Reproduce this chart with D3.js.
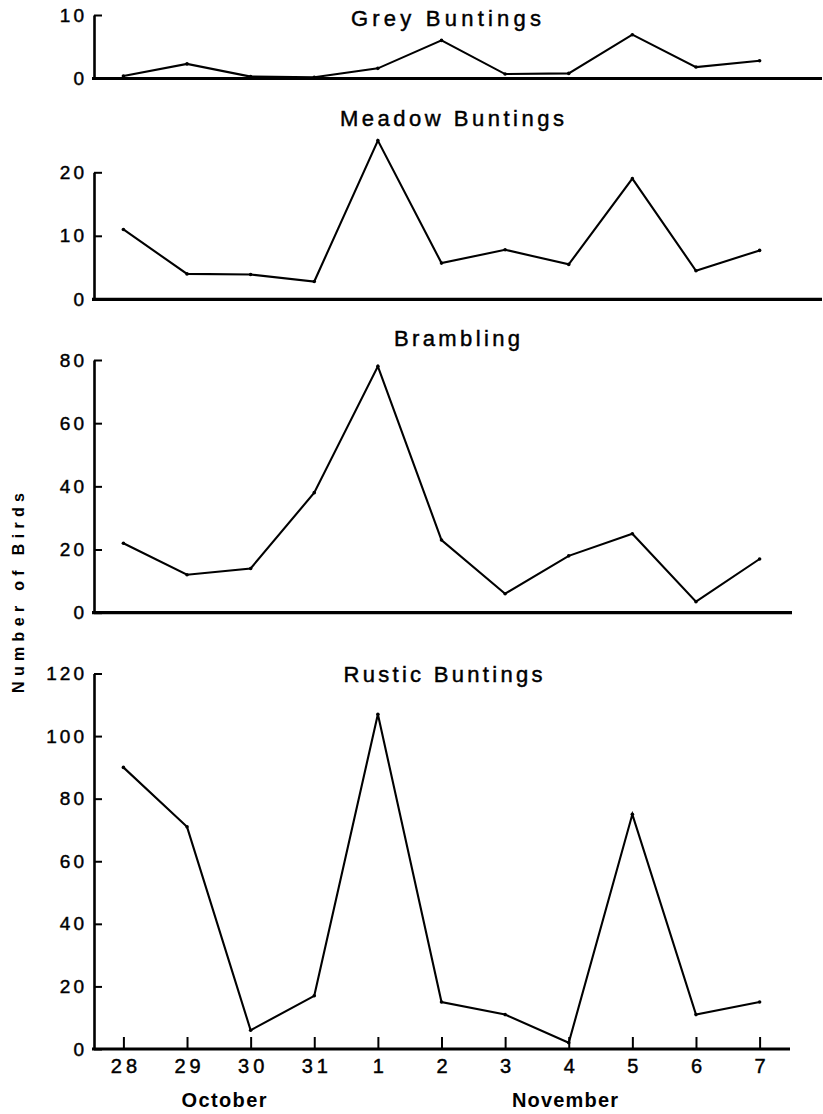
<!DOCTYPE html>
<html>
<head>
<meta charset="utf-8">
<script src="https://cdn.jsdelivr.net/npm/d3@7"></script>
<style>
  html, body { margin: 0; padding: 0; background: #fff; }
  svg { display: block; }
  text { font-family: "Liberation Sans", Arial, sans-serif; fill: #000; }
  .heavy { stroke: #000; stroke-width: 0.45px; }
</style>
</head>
<body>
<svg id="chart" width="823" height="1114"></svg>
<script>
// Daily counts of birds, 28 October – 7 November
const days = ["28", "29", "30", "31", "1", "2", "3", "4", "5", "6", "7"];

const greyBuntings   = [0.4, 2.3, 0.3, 0.2, 1.6, 6, 0.7, 0.8, 6.9, 1.8, 2.8];
const meadowBuntings = [11, 4, 3.9, 2.8, 25, 5.7, 7.8, 5.5, 19, 4.5, 7.7];
const brambling      = [22, 12, 14, 38, 78, 23, 6, 18, 25, 3.5, 17];
const rusticBuntings = [90, 71, 6, 17, 107, 15, 11, 2, 75, 11, 15];

const greyTicks      = [0, 10];
const meadowTicks    = [0, 10, 20];
const bramblingTicks = [0, 20, 40, 60, 80];
const rusticTicks    = [0, 20, 40, 60, 80, 100, 120];

const monthLabels = ["October", "November"];
const yTitle = "Number of Birds";

// Panel layout: baseline / top-tick pixel rows and how far each baseline runs
const panels = [
  { title: "Grey Buntings",   values: greyBuntings,   ticks: greyTicks,      base: 78.5,  top: 15,    xEnd: 822, titleX: 446, titleY: 26,  titleW: 190 },
  { title: "Meadow Buntings", values: meadowBuntings, ticks: meadowTicks,    base: 299.3, top: 172.3, xEnd: 822, titleX: 452, titleY: 126, titleW: 224 },
  { title: "Brambling",       values: brambling,      ticks: bramblingTicks, base: 612.7, top: 360,   xEnd: 792, titleX: 457, titleY: 346, titleW: 126 },
  { title: "Rustic Buntings", values: rusticBuntings, ticks: rusticTicks,    base: 1049,  top: 673.5, xEnd: 790, titleX: 443, titleY: 682, titleW: 199 }
];

const axisX = 94;
const svg = d3.select("#chart");

const x = d3.scalePoint().domain(days).range([123.4, 759.6]);

panels.forEach((p, i) => {
  const y = d3.scaleLinear()
    .domain([0, d3.max(p.ticks)])
    .range([p.base, p.top]);

  const g = svg.append("g");

  // title
  g.append("text")
    .attr("class", "heavy")
    .attr("x", p.titleX - p.titleW / 2)
    .attr("y", p.titleY)
    .attr("textLength", p.titleW)
    .attr("lengthAdjust", "spacing")
    .style("font-size", "22px")
    .text(p.title);

  // y axis with inward ticks
  const yAxis = d3.axisLeft(y)
    .tickValues(p.ticks)
    .tickSizeInner(-8)
    .tickSizeOuter(0)
    .tickPadding(10)
    .tickFormat(d3.format("d"));

  const ya = g.append("g")
    .attr("transform", `translate(${axisX},0)`)
    .call(yAxis);
  ya.select(".domain").attr("stroke", "#000").attr("stroke-width", 2.6);
  ya.selectAll(".tick line").attr("stroke", "#000").attr("stroke-width", 2);
  ya.selectAll(".tick text")
    .attr("class", "heavy")
    .attr("font-family", null)
    .attr("font-size", null)
    .style("font-size", "19px")
    .style("letter-spacing", "3px")
    .attr("dx", "3px");

  // baseline
  g.append("line")
    .attr("x1", axisX - 2).attr("x2", p.xEnd)
    .attr("y1", y(0)).attr("y2", y(0))
    .attr("stroke", "#000").attr("stroke-width", 3.2);

  // series line
  const line = d3.line()
    .x((d, j) => x(days[j]))
    .y(d => y(d));

  g.append("path")
    .datum(p.values)
    .attr("fill", "none")
    .attr("stroke", "#000")
    .attr("stroke-width", 2.1)
    .attr("stroke-linejoin", "miter")
    .attr("d", line);

  g.selectAll("circle.pt")
    .data(p.values)
    .join("circle")
    .attr("class", "pt")
    .attr("cx", (d, j) => x(days[j]))
    .attr("cy", d => y(d))
    .attr("r", 1.8)
    .attr("fill", "#000");

  // day axis on the bottom panel
  if (i === panels.length - 1) {
    const xAxis = d3.axisBottom(x)
      .tickSizeInner(-12)
      .tickSizeOuter(0)
      .tickPadding(24);
    const xa = g.append("g")
      .attr("transform", `translate(0,${y(0)})`)
      .call(xAxis);
    xa.select(".domain").remove();
    xa.selectAll(".tick line").attr("stroke", "#000").attr("stroke-width", 2);
    xa.selectAll(".tick text")
      .attr("class", "heavy")
      .attr("font-family", null)
      .attr("font-size", null)
      .attr("dy", "0")
      .style("font-size", "20px")
      .style("letter-spacing", "4px")
      .attr("dx", "2px");

    const monthPos = [
      { label: monthLabels[0], cx: 224, w: 85 },
      { label: monthLabels[1], cx: 565, w: 106 }
    ];
    g.selectAll("text.month")
      .data(monthPos)
      .join("text")
      .attr("class", "month")
      .attr("x", d => d.cx - d.w / 2)
      .attr("y", 1107)
      .attr("textLength", d => d.w)
      .attr("lengthAdjust", "spacing")
      .style("font-size", "20px")
      .style("font-weight", "bold")
      .text(d => d.label);
  }
});

// shared y title
svg.append("text")
  .attr("transform", "translate(24,593) rotate(-90)")
  .attr("x", -100)
  .attr("y", 0)
  .attr("textLength", 200)
  .attr("lengthAdjust", "spacing")
  .style("font-size", "16px")
  .style("font-weight", "bold")
  .text(yTitle);
</script>
</body>
</html>
